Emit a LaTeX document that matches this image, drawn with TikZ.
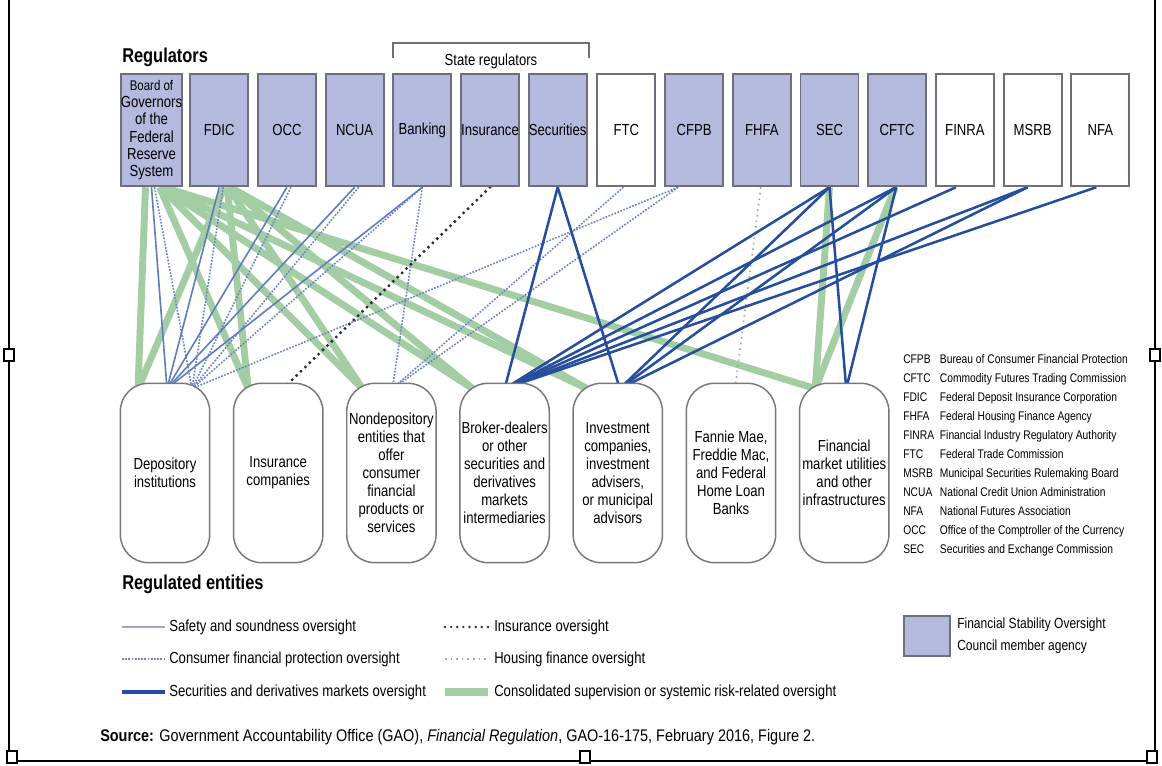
\documentclass[tikz,border=0pt]{standalone}
\usepackage{fontspec}
\setmainfont{Liberation Sans}
\newfontfamily\nar[FakeStretch=0.82]{Liberation Sans}
\newfontfamily\srcf[FakeStretch=0.86]{Liberation Sans}
\usetikzlibrary{calc}
\pgfdeclarelayer{bg}
\pgfsetlayers{bg,main}
\definecolor{fsoc}{RGB}{180,185,222}
\definecolor{bgray}{RGB}{110,110,125}
\definecolor{egray}{RGB}{120,120,120}
\definecolor{grn}{RGB}{163,206,163}
\definecolor{ssblue}{RGB}{95,125,190}
\definecolor{cfblue}{RGB}{110,130,205}
\definecolor{secblue}{RGB}{38,78,158}
\definecolor{insblack}{RGB}{45,45,55}
\definecolor{housgray}{RGB}{165,165,165}
\newcommand\cnx[5]{\draw[#1] ($(#2.south)+(#3,0)$) -- ($(#4.north)+(#5,6)$);}
\begin{document}
\begin{tikzpicture}[x=0.75pt,y=-0.75pt,
  reg/.style={draw=bgray, line width=1.4pt, minimum width=43.5pt, minimum height=84.5pt, inner sep=0pt,
    font=\nar\fontsize{12}{13}\selectfont, align=center},
  fed/.style={reg, fill=fsoc},
  ent/.style={draw=egray, line width=1.1pt, fill=white, rounded corners=21pt, minimum width=67pt,
    minimum height=134.5pt, inner sep=0pt, font=\nar\fontsize{12}{13.5}\selectfont, align=center},
  grnl/.style={draw=grn, line width=5.2pt},
  ss/.style={draw=ssblue, line width=1.2pt},
  cf/.style={draw=cfblue, line width=1.2pt, dash pattern=on 1.3pt off 1.1pt},
  secl/.style={draw=secblue, line width=1.9pt},
  insl/.style={draw=insblack, line width=2.5pt, line cap=round, dash pattern=on 0pt off 4.6pt},
  hous/.style={draw=housgray, line width=1.2pt, dash pattern=on 1.2pt off 3pt},
  legtxt/.style={anchor=west, inner sep=0pt, font=\nar\fontsize{12}{13}\selectfont},
  ttl/.style={anchor=west, inner sep=0pt, font=\nar\bfseries\fontsize{15}{17}\selectfont}
]
\useasboundingbox (0,0) rectangle (1162,766);

% ---------- regulators ----------
\node[fed] (fed)   at (151.5,130) {\fontsize{10.5}{11.3}\selectfont Board of\\Governors\\of the\\Federal\\Reserve\\System};
\node[fed] (fdic)  at (219.2,130) {FDIC};
\node[fed] (occ)   at (286.9,130) {OCC};
\node[fed] (ncua)  at (354.6,130) {NCUA};
\node[fed] (sbank) at (422.3,130) {Banking};
\node[fed] (sins)  at (490.0,130) {Insurance};
\node[fed] (ssec)  at (557.7,130) {Securities};
\node[reg] (ftc)   at (626.4,130) {FTC};
\node[fed] (cfpb)  at (694.1,130) {CFPB};
\node[fed] (fhfa)  at (761.8,130) {FHFA};
\node[fed] (sec)   at (829.5,130) {SEC};
\node[fed] (cftc)  at (897.2,130) {CFTC};
\node[reg] (finra) at (964.9,130) {FINRA};
\node[reg] (msrb)  at (1032.6,130) {MSRB};
\node[reg] (nfa)   at (1100.3,130) {NFA};

% ---------- regulated entities ----------
\node[ent] (dep)    at (165,473)   {Depository\\institutions};
\node[ent] (ins)    at (278.2,473) {Insurance\\companies};
\node[ent] (nondep) at (391.4,473) {Nondepository\\entities that\\offer\\consumer\\financial\\products or\\services};
\node[ent] (bd)     at (504.6,473) {Broker-dealers\\or other\\securities and\\derivatives\\markets\\intermediaries};
\node[ent] (inv)    at (617.8,473) {Investment\\companies,\\investment\\advisers,\\or municipal\\advisors};
\node[ent] (gse)    at (731,473)   {Fannie Mae,\\Freddie Mac,\\and Federal\\Home Loan\\Banks};
\node[ent] (fmu)    at (844.2,473) {Financial\\market utilities\\and other\\infrastructures};

% ---------- connectors (drawn behind the boxes) ----------
\begin{pgfonlayer}{bg}
\fill[white] (0,0) rectangle (1162,766);
% consolidated supervision / systemic risk
\cnx{grnl}{fed}{-6}{dep}{-27}
\cnx{grnl}{fed}{8}{ins}{-30}
\cnx{grnl}{fed}{9}{nondep}{-29}
\cnx{grnl}{fed}{10}{bd}{-32}
\cnx{grnl}{fed}{11}{inv}{-31}
\cnx{grnl}{fed}{12}{fmu}{-29}
\cnx{grnl}{fdic}{5}{dep}{-27}
\cnx{grnl}{fdic}{8}{ins}{-30}
\cnx{grnl}{fdic}{9}{nondep}{-29}
\cnx{grnl}{fdic}{10}{bd}{-32}
\cnx{grnl}{fdic}{11}{inv}{-31}
\cnx{grnl}{sec}{0}{fmu}{-29}
\cnx{grnl}{cftc}{-2}{fmu}{-29}
% consumer financial protection
\cnx{cf}{fed}{3}{dep}{27}
\cnx{cf}{fdic}{4}{dep}{27}
\cnx{cf}{occ}{4}{dep}{27}
\cnx{cf}{ncua}{4}{dep}{27}
\cnx{cf}{sbank}{0}{dep}{27}
\cnx{cf}{sbank}{0}{nondep}{1}
\cnx{cf}{ftc}{-3}{nondep}{1}
\cnx{cf}{cfpb}{-16}{dep}{27}
\cnx{cf}{cfpb}{-16}{nondep}{1}
% safety and soundness
\cnx{ss}{fed}{0}{dep}{2}
\cnx{ss}{fdic}{0}{dep}{2}
\cnx{ss}{occ}{0}{dep}{2}
\cnx{ss}{ncua}{0}{dep}{2}
\cnx{ss}{sbank}{0}{dep}{2}
% insurance
\cnx{insl}{sins}{0}{ins}{5}
% housing finance
\cnx{hous}{fhfa}{-1}{gse}{4}
% securities and derivatives markets
\cnx{secl}{ssec}{0}{bd}{0}
\cnx{secl}{ssec}{0}{inv}{2}
\cnx{secl}{sec}{0}{bd}{0}
\cnx{secl}{sec}{0}{inv}{2}
\cnx{secl}{sec}{0}{fmu}{2}
\cnx{secl}{cftc}{-1}{bd}{0}
\cnx{secl}{cftc}{-1}{inv}{2}
\cnx{secl}{cftc}{-1}{fmu}{2}
\cnx{secl}{finra}{-9}{bd}{0}
\cnx{secl}{msrb}{-5}{bd}{0}
\cnx{secl}{msrb}{-5}{inv}{2}
\cnx{secl}{nfa}{-4}{bd}{0}
\end{pgfonlayer}

% ---------- headings ----------
\node[ttl] (hreg) at (122,57) {Regulators};
\node[ttl] (hent) at (122,584) {Regulated entities};
\coordinate (brl) at (393,58);
\coordinate (brr) at (589,58);
\draw[bgray, line width=1.1pt] (brl) -- ++(0,-15) -| (brr);
\node[inner sep=0pt, font=\nar\fontsize{12}{13}\selectfont] (hstate) at (491,61) {State regulators};

% ---------- abbreviations ----------
\node[anchor=north west, inner sep=0pt, align=left, font=\nar\fontsize{9.4}{14.25}\selectfont] (abbr) at (903,354)
{\makebox[27.5pt][l]{CFPB}Bureau of Consumer Financial Protection\\
\makebox[27.5pt][l]{CFTC}Commodity Futures Trading Commission\\
\makebox[27.5pt][l]{FDIC}Federal Deposit Insurance Corporation\\
\makebox[27.5pt][l]{FHFA}Federal Housing Finance Agency\\
\makebox[27.5pt][l]{FINRA}Financial Industry Regulatory Authority\\
\makebox[27.5pt][l]{FTC}Federal Trade Commission\\
\makebox[27.5pt][l]{MSRB}Municipal Securities Rulemaking Board\\
\makebox[27.5pt][l]{NCUA}National Credit Union Administration\\
\makebox[27.5pt][l]{NFA}National Futures Association\\
\makebox[27.5pt][l]{OCC}Office of the Comptroller of the Currency\\
\makebox[27.5pt][l]{SEC}Securities and Exchange Commission};

% ---------- legend ----------
\coordinate (la1) at (122,627); \coordinate (lb1) at (165,627);
\coordinate (la2) at (122,659); \coordinate (lb2) at (165,659);
\coordinate (la3) at (122,692); \coordinate (lb3) at (165,692);
\coordinate (ra1) at (445,627); \coordinate (rb1) at (488,627);
\coordinate (ra2) at (445,659); \coordinate (rb2) at (488,659);
\coordinate (ra3) at (445,692); \coordinate (rb3) at (488,692);
\draw[draw={rgb,255:red,150;green,165;blue,210}, line width=1.5pt] (la1) -- (lb1);
\draw[cf] (la2) -- (lb2);
\draw[secblue, line width=2.6pt] (la3) -- (lb3);
\draw[insl, line width=2pt] (ra1) -- (rb1);
\draw[hous] (ra2) -- (rb2);
\draw[grn, line width=6pt] (ra3) -- (rb3);
\node[legtxt] (lt1) at (169,627) {Safety and soundness oversight};
\node[legtxt] (lt2) at (169,659) {Consumer financial protection oversight};
\node[legtxt] (lt3) at (169,692) {Securities and derivatives markets oversight};
\node[legtxt] (rt1) at (494,627) {Insurance oversight};
\node[legtxt] (rt2) at (494,659) {Housing finance oversight};
\node[legtxt] (rt3) at (494,692) {Consolidated supervision or systemic risk-related oversight};
\node[draw=bgray, line width=1.4pt, fill=fsoc, minimum width=34pt, minimum height=30pt, inner sep=0pt] (fsocbox) at (927,636) {};
\node[anchor=west, inner sep=0pt, align=left, font=\nar\fontsize{11}{16.5}\selectfont] (fsoctxt) at (957,636)
 {Financial Stability Oversight\\Council member agency};

% ---------- source ----------
\node[anchor=west, inner sep=0pt, font=\srcf\fontsize{12.6}{14}\selectfont] (src) at (100,737)
 {\textbf{Source:} Government Accountability Office (GAO), \textit{Financial Regulation}, GAO-16-175, February 2016, Figure 2.};

% ---------- page frame ----------
\coordinate (ftl) at (9,0); \coordinate (fbl) at (9,761);
\coordinate (fbr) at (1155,761); \coordinate (ftr) at (1155,0);
\draw[black, line width=1.5pt] (ftl) -- (fbl) -- (fbr) -- (ftr);
\foreach \hx/\hy in {9/355, 1155/355, 585/757, 12/757, 1152/757}
  \draw[black, line width=0.8pt, fill=white] (\hx-5,\hy-6) rectangle (\hx+5,\hy+6);
\end{tikzpicture}
\end{document}
